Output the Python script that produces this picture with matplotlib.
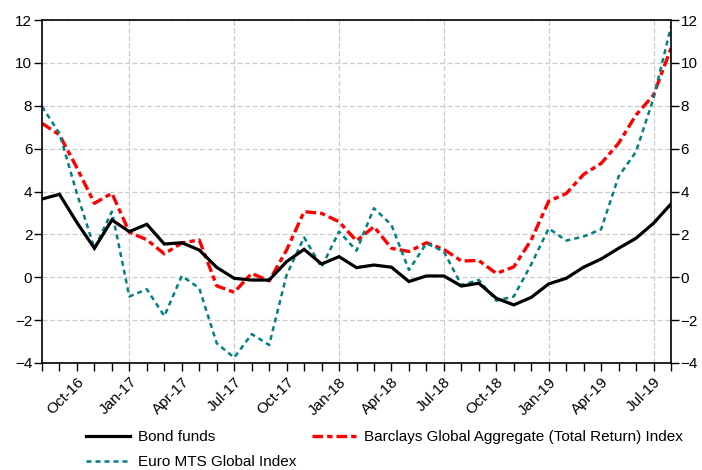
import matplotlib
matplotlib.use("Agg")
import matplotlib.pyplot as plt
from matplotlib.ticker import MultipleLocator, FixedLocator

plt.rcParams['font.family'] = ['Liberation Sans', 'DejaVu Sans']

months = ['Aug-16', 'Sep-16', 'Oct-16', 'Nov-16', 'Dec-16', 'Jan-17', 'Feb-17', 'Mar-17',
          'Apr-17', 'May-17', 'Jun-17', 'Jul-17', 'Aug-17', 'Sep-17', 'Oct-17', 'Nov-17',
          'Dec-17', 'Jan-18', 'Feb-18', 'Mar-18', 'Apr-18', 'May-18', 'Jun-18', 'Jul-18',
          'Aug-18', 'Sep-18', 'Oct-18', 'Nov-18', 'Dec-18', 'Jan-19', 'Feb-19', 'Mar-19',
          'Apr-19', 'May-19', 'Jun-19', 'Jul-19', 'Aug-19']

bond_funds = [3.65, 3.87, 2.55, 1.35, 2.67, 2.13, 2.47, 1.55, 1.61, 1.27,
              0.46, -0.05, -0.13, -0.13, 0.73, 1.30, 0.62, 0.96, 0.45, 0.57,
              0.47, -0.20, 0.06, 0.06, -0.41, -0.28, -0.98, -1.29, -0.94, -0.31,
              -0.05, 0.47, 0.85, 1.35, 1.82, 2.52, 3.42]

barclays = [7.18, 6.64, 5.10, 3.45, 3.92, 2.10, 1.75, 1.09, 1.60, 1.74,
            -0.40, -0.70, 0.18, -0.17, 1.27, 3.06, 2.98, 2.59, 1.70, 2.36,
            1.35, 1.20, 1.61, 1.30, 0.76, 0.78, 0.18, 0.48, 1.74, 3.55,
            3.90, 4.80, 5.31, 6.25, 7.57, 8.50, 10.68]

euro_mts = [7.96, 6.71, 3.90, 1.35, 3.06, -0.90, -0.56, -1.81, 0.06, -0.51,
            -3.08, -3.75, -2.65, -3.16, 0.11, 1.86, 0.47, 2.13, 1.24, 3.22,
            2.44, 0.34, 1.58, 1.20, -0.36, -0.13, -1.09, -0.90, 0.60, 2.28,
            1.71, 1.90, 2.24, 4.70, 5.86, 8.35, 11.69]

label_names = ['Bond funds', 'Barclays Global Aggregate (Total Return) Index', 'Euro MTS Global Index']
y_ticks = [-4, -2, 0, 2, 4, 6, 8, 10, 12]

x = list(range(len(months)))
label_idx = [i for i, m in enumerate(months) if m[:3] in ('Jan', 'Apr', 'Jul', 'Oct')]
grid_idx = [i for i, m in enumerate(months) if m[:3] in ('Jan', 'Jul')]

fig = plt.figure(figsize=(7.02, 4.70), dpi=100)
ax = fig.add_axes([42/702, 1-363/470, (671-42)/702, (363-20)/470])

# grid
for g in y_ticks:
    ax.axhline(g, color='#cccccc', lw=0.9, ls=(0, (4, 2)), zorder=0)
for g in grid_idx:
    ax.axvline(g, color='#cccccc', lw=0.9, ls=(0, (4, 2)), zorder=0)

l1, = ax.plot(x, bond_funds, color='black', lw=2.3, solid_joinstyle='miter', zorder=3)
l2, = ax.plot(x, barclays, color='#ff0000', lw=2.4, dashes=(3.2, 1.2, 1.6, 1.2), zorder=2)
l3, = ax.plot(x, euro_mts, color='#008080', lw=1.8, dashes=(2.0, 1.6), zorder=2)

ax.set_xlim(0, len(months) - 1)
ax.set_ylim(-4, 12)
ax.set_yticks(y_ticks)
ax.tick_params(axis='y', which='both', direction='out', length=6, width=1,
               labelsize=11, left=True, right=True, labelleft=True, labelright=True, pad=1)

ax.xaxis.set_major_locator(FixedLocator(label_idx))
ax.set_xticklabels([months[i] for i in label_idx], rotation=45, ha='right',
                   rotation_mode='anchor', fontsize=11)
ax.xaxis.set_minor_locator(MultipleLocator(1))
ax.tick_params(axis='x', which='both', direction='out', length=5.5, width=1, pad=3)

for s in ax.spines.values():
    s.set_linewidth(1.2)

fig.legend([l1, l3, l2], [label_names[0], label_names[2], label_names[1]],
           ncol=2, loc='upper left', bbox_to_anchor=(86/702, 1-430/470),
           frameon=False, fontsize=11, handlelength=2.9, handletextpad=0.5,
           columnspacing=1.0, labelspacing=0.75, borderpad=0, borderaxespad=0)

fig.savefig('out.png', dpi=100)
